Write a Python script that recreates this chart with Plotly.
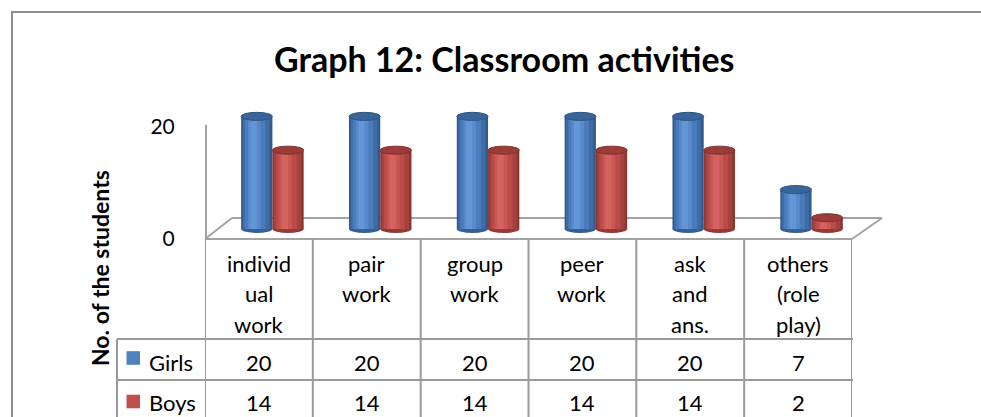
import plotly.graph_objects as go

# ---------------- data ----------------
categories = ["individual work", "pair work", "group work", "peer work", "ask and ans.", "others (role play)"]
cat_labels = ["individ<br>ual<br>work", "pair<br>work", "group<br>work", "peer<br>work",
              "ask<br>and<br>ans.", "others<br>(role<br>play)"]
series_names = ["Girls", "Boys"]
girls = [20, 20, 20, 20, 20, 7]
boys = [14, 14, 14, 14, 14, 2]
y_ticks = [0, 20]

W, H = 981, 417
FONT = "Lato, 'Open Sans', 'DejaVu Sans', sans-serif"


def px(x):
    return x / W


def py(y):
    return 1 - y / H


# plot geometry (pixels)
X_LEFT, X_RIGHT = 205, 852
Y_BOTTOM, Y_TOP = 239, 100
PX_PER_UNIT = 5.63
y_span = (Y_BOTTOM - Y_TOP) / PX_PER_UNIT
depth_shift_units = 10 / PX_PER_UNIT      # bars sit behind the front plane
x_shift = 0.125                            # bars shifted right (3D depth)

n = len(categories)
xs = list(range(n))

fig = go.Figure()

bar_w = 0.29
styles = {
    "Girls": dict(vals=girls, offset=-bar_w, base="#4F81BD",
                  layers=[(0.0, 1.0, "#335a8a"), (0.05, 0.92, "#3f6ca5"),
                          (0.12, 0.78, "#4a7cbb"), (0.22, 0.62, "#5889cb"), (0.30, 0.50, "#6396d6")],
                  top="#3a659a", top_line="#2f5585", bottom="#365f92"),
    "Boys": dict(vals=boys, offset=0.0, base="#C0504D",
                 layers=[(0.0, 1.0, "#8a3634"), (0.05, 0.92, "#a5423f"),
                         (0.12, 0.78, "#b94c49"), (0.22, 0.62, "#c95855"), (0.30, 0.50, "#d4625f")],
                 top="#9c3c39", top_line="#82302e", bottom="#933936"),
}

shapes = []

# chart border
shapes.append(dict(type="rect", xref="paper", yref="paper",
                   x0=px(12), x1=px(1000), y0=py(12), y1=py(440),
                   line=dict(color="#8c8c8c", width=2), fillcolor="rgba(0,0,0,0)"))

# floor (3D base)
GRID = "#a3a3a3"
floor_pts = [(205, 239), (852, 239), (882, 218), (232, 218)]
for (ax0, ay0), (ax1, ay1) in zip(floor_pts, floor_pts[1:] + floor_pts[:1]):
    shapes.append(dict(type="line", xref="paper", yref="paper", layer="below",
                       x0=px(ax0), y0=py(ay0), x1=px(ax1), y1=py(ay1),
                       line=dict(color=GRID, width=2)))
# vertical axis line (front plane), from 0 to the top tick
shapes.append(dict(type="line", xref="paper", yref="y", layer="below",
                   x0=px(206), x1=px(206), y0=y_ticks[0], y1=y_ticks[-1] + 0.3,
                   line=dict(color=GRID, width=2)))

for name, st in styles.items():
    for i, v in enumerate(st["vals"]):
        x0 = i + st["offset"]
        x1 = x0 + bar_w
        # rounded bottom
        shapes.append(dict(type="circle", xref="x2", yref="y2", layer="below",
                           x0=x0, x1=x1, y0=-0.72, y1=0.72,
                           fillcolor=st["bottom"], line=dict(width=0)))
        # top face
        shapes.append(dict(type="circle", xref="x2", yref="y2", layer="above",
                           x0=x0, x1=x1, y0=v - 0.72, y1=v + 0.72,
                           fillcolor=st["top"], line=dict(color=st["top_line"], width=1)))
    for (f0, f1, col) in st["layers"]:
        fig.add_trace(go.Bar(
            x=xs, y=st["vals"], name=name, xaxis="x2", yaxis="y2",
            offset=st["offset"] + f0 * bar_w, width=(f1 - f0) * bar_w,
            marker=dict(color=col, line=dict(width=0)),
            showlegend=False, hoverinfo="skip"))

# ---------------- data table ----------------
TBL = "#9a9a9a"
TBL_BOTTOM = 440
for k in range(n + 1):
    shapes.append(dict(type="line", xref="x", yref="paper",
                       x0=k - 0.5, x1=k - 0.5, y0=py(239), y1=py(TBL_BOTTOM),
                       line=dict(color=TBL, width=2)))
shapes.append(dict(type="line", xref="paper", yref="paper",
                   x0=px(117), x1=px(117), y0=py(339), y1=py(TBL_BOTTOM),
                   line=dict(color=TBL, width=2)))
for yy in (339, 380):
    shapes.append(dict(type="line", xref="paper", yref="paper",
                       x0=px(117), x1=px(853), y0=py(yy), y1=py(yy),
                       line=dict(color=TBL, width=2)))

annotations = []
# category labels
for i, lab in enumerate(cat_labels):
    for j, line in enumerate(lab.split("<br>")):
        annotations.append(dict(x=i, xref="x", y=py(263 + j * 30.5), yref="paper",
                                text=line, showarrow=False, xanchor="center", yanchor="middle",
                                font=dict(family=FONT, size=22, color="#000")))
# series rows
row_y = {"Girls": 362, "Boys": 402}
key_y = {"Girls": 358, "Boys": 401.5}
for name, st in styles.items():
    shapes.append(dict(type="rect", xref="paper", yref="paper",
                       x0=px(126.5), x1=px(140), y0=py(key_y[name] - 6.8), y1=py(key_y[name] + 6.8),
                       fillcolor=st["base"], line=dict(width=0)))
    annotations.append(dict(x=px(147), xref="paper", y=py(row_y[name]), yref="paper",
                            text=name, showarrow=False, xanchor="left", yanchor="middle",
                            font=dict(family=FONT, size=22, color="#000")))
    for i, v in enumerate(st["vals"]):
        annotations.append(dict(x=i, xref="x", y=py(row_y[name]), yref="paper",
                                text=str(v), showarrow=False, xanchor="center", yanchor="middle",
                                font=dict(family=FONT, size=22, color="#000")))

# title and axis title
annotations.append(dict(x=px(505), y=py(58), xref="paper", yref="paper",
                        text="<b>Graph 12: Classroom activities</b>", showarrow=False,
                        xanchor="center", yanchor="middle",
                        font=dict(family=FONT, size=34, color="#000")))
annotations.append(dict(x=px(100), y=py(268), xref="paper", yref="paper",
                        text="<b>No. of the students</b>", showarrow=False, textangle=-90,
                        xanchor="center", yanchor="middle",
                        font=dict(family=FONT, size=23, color="#000")))

fig.update_layout(
    width=W, height=H,
    margin=dict(l=0, r=0, t=0, b=0, pad=0, autoexpand=False),
    paper_bgcolor="white", plot_bgcolor="rgba(0,0,0,0)",
    barmode="overlay",
    showlegend=False,
    xaxis=dict(domain=[px(X_LEFT), px(X_RIGHT)], range=[-0.5, n - 0.5], automargin=False,
               showticklabels=False, showgrid=False, zeroline=False, showline=False, ticks=""),
    xaxis2=dict(domain=[px(X_LEFT), px(X_RIGHT)], overlaying="x", automargin=False,
                range=[-0.5 - x_shift, n - 0.5 - x_shift], visible=False),
    yaxis=dict(domain=[py(Y_BOTTOM), py(Y_TOP)], range=[0, y_span], automargin=False,
               tickvals=y_ticks, ticktext=[str(t) for t in y_ticks],
               ticks="outside", ticklen=25, tickcolor="rgba(0,0,0,0)",
               tickfont=dict(family=FONT, size=21, color="#000"),
               showgrid=False, zeroline=False, showline=False),
    yaxis2=dict(domain=[py(Y_BOTTOM), py(Y_TOP)], overlaying="y", automargin=False,
                range=[-depth_shift_units, y_span - depth_shift_units], visible=False),
    shapes=shapes,
    annotations=annotations,
)

fig.write_html("out.html", config={"displayModeBar": False, "responsive": False},
               post_script="document.body.style.margin='0px';document.body.style.overflow='hidden';")
